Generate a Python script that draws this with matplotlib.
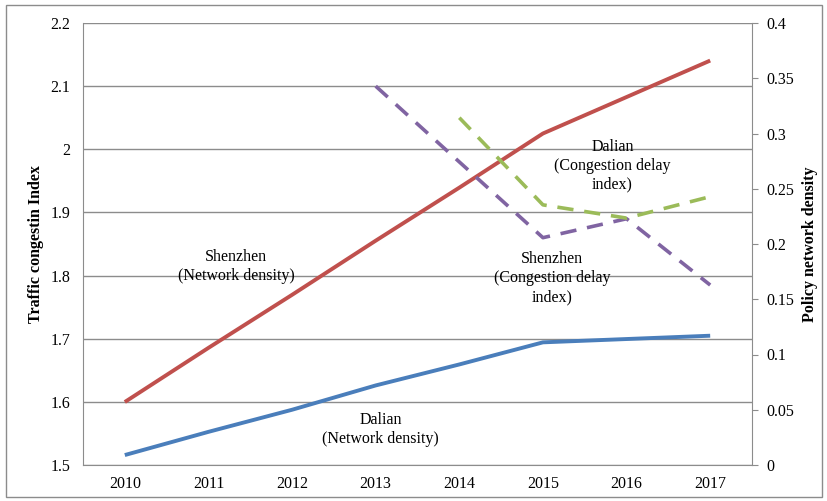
import matplotlib
matplotlib.use("Agg")
import matplotlib.pyplot as plt
from matplotlib.patches import Rectangle

plt.rcParams['font.family'] = ['Liberation Serif', 'DejaVu Serif']

years = ['2010', '2011', '2012', '2013', '2014', '2015', '2016', '2017']
# Policy network density (right axis)
shenzhen_density = [0.057, 0.106, 0.154, 0.203, 0.251, 0.300, 0.333, 0.366]
dalian_density = [0.009, 0.030, 0.050, 0.072, 0.091, 0.111, 0.114, 0.117]
# Congestion delay index (left axis)
shenzhen_cdi_years = ['2013', '2014', '2015', '2016', '2017']
shenzhen_cdi = [2.10, 1.98, 1.86, 1.89, 1.785]
dalian_cdi_years = ['2014', '2015', '2016', '2017']
dalian_cdi = [2.05, 1.912, 1.891, 1.925]

left_ticks = [1.5, 1.6, 1.7, 1.8, 1.9, 2.0, 2.1, 2.2]
left_ticklabels = ['1.5', '1.6', '1.7', '1.8', '1.9', '2', '2.1', '2.2']
right_ticks = [0, 0.05, 0.1, 0.15, 0.2, 0.25, 0.3, 0.35, 0.4]
right_ticklabels = ['0', '0.05', '0.1', '0.15', '0.2', '0.25', '0.3', '0.35', '0.4']

fig = plt.figure(figsize=(8.27, 5.01), dpi=100)
fig.patches.append(Rectangle((0.007, 0.008), 0.987, 0.982, transform=fig.transFigure,
                             fill=False, edgecolor='#8c8c8c', linewidth=1.0))
ax = fig.add_axes([83/827, 1-465/501, (752-83)/827, (465-23)/501])
ax2 = ax.twinx()

xi = list(range(len(years)))
idx = {y: i for i, y in enumerate(years)}

ax.set_xlim(-0.5, 7.5)
ax.set_ylim(1.5, 2.2)
ax.set_yticks(left_ticks)
ax.set_yticklabels(left_ticklabels)
ax.set_xticks(xi)
ax.set_xticklabels(years)
ax.yaxis.grid(True, color='#8c8c8c', linewidth=1.0)
ax.set_axisbelow(True)
ax.tick_params(axis='both', length=0, labelsize=11.5, pad=8, colors='black')
ax.tick_params(axis='y', pad=9)
for s in ['left', 'bottom']:
    ax.spines[s].set_color('#8c8c8c')
for s in ['top', 'right']:
    ax.spines[s].set_visible(False)
ax.set_ylabel('Traffic congestin Index', fontsize=11.5, fontweight='bold', labelpad=5)

ax2.set_ylim(0, 0.4)
ax2.set_yticks(right_ticks)
ax2.set_yticklabels(right_ticklabels)
ax2.tick_params(axis='y', length=4, direction='out', color='#8c8c8c', labelsize=11.5, pad=6)
for s in ['left', 'bottom', 'top']:
    ax2.spines[s].set_visible(False)
ax2.spines['right'].set_color('#8c8c8c')
ax2.set_ylabel('Policy network density', fontsize=11.5, fontweight='bold', labelpad=6)

ax2.plot(xi, shenzhen_density, color='#c0504d', linewidth=2.8, solid_capstyle='butt')
ax2.plot(xi, dalian_density, color='#4a7ebb', linewidth=2.8, solid_capstyle='butt')
ax2.plot([idx[y] for y in shenzhen_cdi_years], [((v - 1.5) / 0.7 * 0.4) for v in shenzhen_cdi],
         color='#8064a2', linewidth=2.6, dashes=(4.5, 3), dash_capstyle='butt')
ax2.plot([idx[y] for y in dalian_cdi_years], [((v - 1.5) / 0.7 * 0.4) for v in dalian_cdi],
         color='#9bbb59', linewidth=2.6, dashes=(4.5, 3), dash_capstyle='butt')

kw = dict(ha='center', va='center', fontsize=11.5, linespacing=1.25)
ax.text(1.33, 1.815, 'Shenzhen\n(Network density)', **kw)
ax.text(3.06, 1.557, 'Dalian\n(Network density)', **kw)
ax.text(5.83, 1.974, 'Dalian\n(Congestion delay\nindex)', **kw)
ax.text(5.11, 1.796, 'Shenzhen\n(Congestion delay\nindex)', **kw)

fig.savefig('out.png', dpi=100)
